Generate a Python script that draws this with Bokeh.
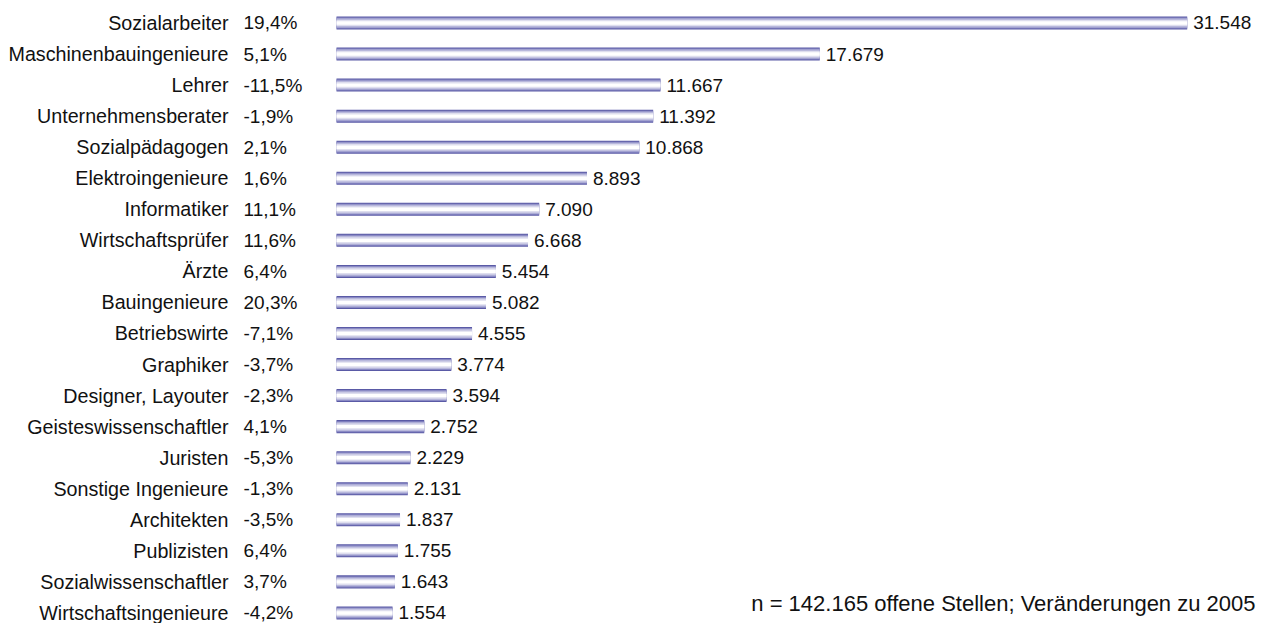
from bokeh.plotting import figure
from bokeh.models import ColumnDataSource, Range1d, Label
from bokeh.core.properties import value
from bokeh.embed import file_html
from bokeh.resources import INLINE

categories = ["Sozialarbeiter", "Maschinenbauingenieure", "Lehrer", "Unternehmensberater",
              "Sozialpädagogen", "Elektroingenieure", "Informatiker", "Wirtschaftsprüfer",
              "Ärzte", "Bauingenieure", "Betriebswirte", "Graphiker", "Designer, Layouter",
              "Geisteswissenschaftler", "Juristen", "Sonstige Ingenieure", "Architekten",
              "Publizisten", "Sozialwissenschaftler", "Wirtschaftsingenieure"]
openings = [31548, 17679, 11667, 11392, 10868, 8893, 7090, 6668, 5454, 5082,
            4555, 3774, 3594, 2752, 2229, 2131, 1837, 1755, 1643, 1554]
change_pct = [19.4, 5.1, -11.5, -1.9, 2.1, 1.6, 11.1, 11.6, 6.4, 20.3,
              -7.1, -3.7, -2.3, 4.1, -5.3, -1.3, -3.5, 6.4, 3.7, -4.2]
footnote = "n = 142.165 offene Stellen; Veränderungen zu 2005"

FONT = "Liberation Sans"
BASE = -560            # bars start slightly left of zero, as in the original
X_START, X_END = -13242, 34541

rows = list(range(len(categories)))
src = ColumnDataSource(dict(
    y=rows,
    val=openings,
    base=[BASE] * len(rows),
    cat=categories,
    val_txt=[f"{v:,}".replace(",", ".") for v in openings],
    pct_txt=[f"{c:.1f}".replace(".", ",") + "%" for c in change_pct],
))

p = figure(width=1266, height=623, output_backend="svg", toolbar_location=None,
           x_axis_location=None, y_axis_location=None,
           x_range=Range1d(X_START, X_END),
           y_range=Range1d(start=19.34, end=-0.7246),
           min_border_left=0, min_border_right=0, min_border_top=0, min_border_bottom=0)
p.outline_line_color = None
p.xgrid.visible = False
p.ygrid.visible = False
p.background_fill_color = "white"
p.border_fill_color = "white"

# striped bars (dark edges fading to white centre)
layers = [(0.42, "#5a5aa6"), (0.355, "#8a8ac4"), (0.285, "#b8b8dc"),
          (0.20, "#dedeee"), (0.11, "#ffffff")]
for h, col in layers:
    p.hbar(y="y", left="base", right="val", height=h, source=src,
           fill_color=col, line_color=None)

txt = dict(source=src, text_baseline="middle", text_font=value(FONT), text_color="#111111")
p.text(x="base", y="y", text="cat", x_offset=-108, text_align="right",
       text_font_size="19.7px", **txt)
p.text(x="base", y="y", text="pct_txt", x_offset=-93, text_align="left",
       text_font_size="19px", **txt)
p.text(x="val", y="y", text="val_txt", x_offset=6, text_align="left",
       text_font_size="19px", **txt)

p.add_layout(Label(x=X_END, y=20, y_units="screen", x_offset=-11, text=footnote,
                   text_align="right", text_baseline="middle", text_font=FONT,
                   text_font_size="22px", text_color="#111111"))

open("out.html", "w").write(file_html(p, INLINE))
